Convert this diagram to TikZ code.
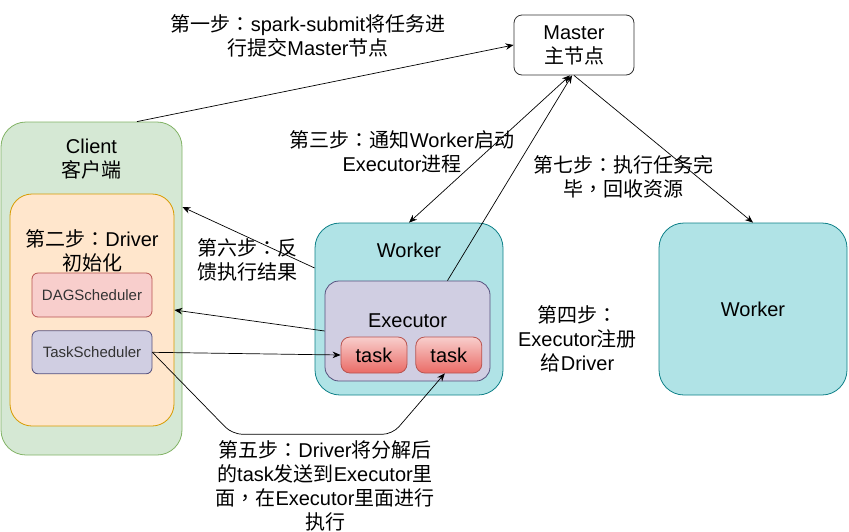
\documentclass[tikz,border=0pt]{standalone}
\usepackage{fontspec}
\setmainfont{Liberation Sans}
\newfontfamily\cjk{Noto Sans CJK SC}
\newfontfamily\cjkpunct{Noto Sans CJK TC}
% switch to the CJK font for Chinese characters
\XeTeXinterchartokenstate=1
\newXeTeXintercharclass\cjkclass
\newXeTeXintercharclass\punctclass
\newcount\cjkcode
\newcommand\setcjkrange[2]{%
  \cjkcode=#1
  \loop\ifnum\cjkcode<#2
    \XeTeXcharclass\cjkcode=\cjkclass
    \advance\cjkcode by 1
  \repeat}
\setcjkrange{"3000}{"3040}
\setcjkrange{"4E00}{"A000}
\setcjkrange{"FF00}{"FFF0}
\XeTeXcharclass"FF1A=\punctclass
\XeTeXcharclass"FF0C=\punctclass
\XeTeXinterchartoks 0 \cjkclass={\begingroup\cjk}
\XeTeXinterchartoks 4095 \cjkclass={\begingroup\cjk}
\XeTeXinterchartoks \cjkclass 0={\endgroup}
\XeTeXinterchartoks \cjkclass 4095={\endgroup}
\XeTeXinterchartoks 0 \punctclass={\begingroup\cjkpunct}
\XeTeXinterchartoks 4095 \punctclass={\begingroup\cjkpunct}
\XeTeXinterchartoks \punctclass 0={\endgroup}
\XeTeXinterchartoks \punctclass 4095={\endgroup}
\XeTeXinterchartoks \cjkclass \punctclass={\endgroup\begingroup\cjkpunct}
\XeTeXinterchartoks \punctclass \cjkclass={\endgroup\begingroup\cjk}
\usepackage{tikz}
\usetikzlibrary{positioning}
\usetikzlibrary{arrows.meta}
\definecolor{clientfill}{HTML}{D5E8D4}
\definecolor{clientline}{HTML}{82B366}
\definecolor{driverfill}{HTML}{FFE6CC}
\definecolor{driverline}{HTML}{D79B00}
\definecolor{dagfill}{HTML}{F8CECC}
\definecolor{dagline}{HTML}{B85450}
\definecolor{execfill}{HTML}{D0CEE2}
\definecolor{execline}{HTML}{56517E}
\definecolor{workerfill}{HTML}{B0E3E6}
\definecolor{workerline}{HTML}{0E8088}
\definecolor{tasktop}{HTML}{F8CECC}
\definecolor{taskbot}{HTML}{EA6B66}
\tikzset{
    >={Stealth[length=8pt,width=6.5pt]},
    box/.style={draw,rounded corners=#1,inner sep=0pt},
    box/.default=8pt,
    txt/.style={font=\fontsize{20}{24}\selectfont,align=center,inner sep=0pt},
    small/.style={font=\fontsize{15}{18}\selectfont,text=black!80},
    workerbox/.style={box=25pt,fill=workerfill,draw=workerline,minimum width=188pt,minimum height=172pt},
    taskbox/.style={box=9pt,top color=tasktop,bottom color=taskbot,draw=dagline,minimum width=66pt,minimum height=36pt,txt}
}

\begin{document}
\begin{tikzpicture}[x=1pt,y=-1pt,line width=0.8pt]
\useasboundingbox (0,0) rectangle (849,531);
% master
\node[box,draw=black!80,fill=white,minimum width=120pt,minimum height=60pt,txt] (master) at (574,45) {Master\\主节点};
% client and driver
\node[box=25pt,fill=clientfill,draw=clientline,minimum width=181pt,minimum height=333pt] (client) at (91.5,288.5) {};
\node[txt] (clientlbl) at ([yshift=-37.5pt]client.north) {Client\\客户端};
\node[box=22pt,fill=driverfill,draw=driverline,minimum width=164pt,minimum height=232pt] (driver) at (92,310) {};
\node[txt] (driverlbl) at ([yshift=-57.5pt]driver.north) {第二步：Driver\\初始化};
\node[box=6pt,fill=dagfill,draw=dagline,minimum width=120pt,minimum height=44pt,small] (dag) at (92,295) {DAGScheduler};
\node[box=6pt,fill=execfill,draw=execline,minimum width=120pt,minimum height=43pt,small,below=13pt of dag] (tasksch) {TaskScheduler};
% workers
\node[workerbox] (worker) at (409,309) {};
\node[txt] (workerlbl) at ([yshift=-28pt]worker.north) {Worker};
\node[box=14pt,fill=execfill,draw=execline,minimum width=165pt,minimum height=100pt] (executor) at (407.5,331) {};
\node[txt] (execlbl) at ([yshift=-40pt]executor.north) {Executor};
\node[taskbox] (taskA) at (374,355) {task};
\node[taskbox,right=8pt of taskA] (taskB) {task};
\node[workerbox,txt] (worker2) at (753,309) {Worker};
% steps
\node[txt] (step1) at (308,36) {第一步：spark-submit将任务进\\行提交Master节点};
\node[txt] (step3) at (402,151.5) {第三步：通知Worker启动\\Executor进程};
\node[txt] (step7) at (623,176.5) {第七步：执行任务完\\毕，回收资源};
\node[txt] (step6) at (247,259.5) {第六步：反\\馈执行结果};
\node[txt] (step4) at (577.5,339) {第四步：\\Executor注册\\给Driver};
\node[txt] (step5) at (325,485.5) {第五步：Driver将分解后\\的task发送到Executor里\\面，在Executor里面进行\\执行};
% connectors
\begin{scope}[line width=0.7pt]
\draw[->] ([xshift=45.5pt]client.north) -- (master.west);
\draw[<->] ([xshift=-4pt]master.south) -- (worker.north);
\draw[->] ([xshift=40pt]executor.north) -- ([xshift=-2pt]master.south);
\draw[->] (master.south) -- (worker2.north);
\draw[->] ([yshift=41pt]worker.west) -- ([yshift=81.5pt]client.east);
\draw[->] (executor.west) -- (driver.east);
\draw[->] (tasksch.east) -- (taskA.west);
\draw[->,rounded corners=10pt] (tasksch.east) -- ++(80,82) -- ++(160,0) -- ([xshift=-4pt]taskB.south);
\end{scope}
\end{tikzpicture}
\end{document}
